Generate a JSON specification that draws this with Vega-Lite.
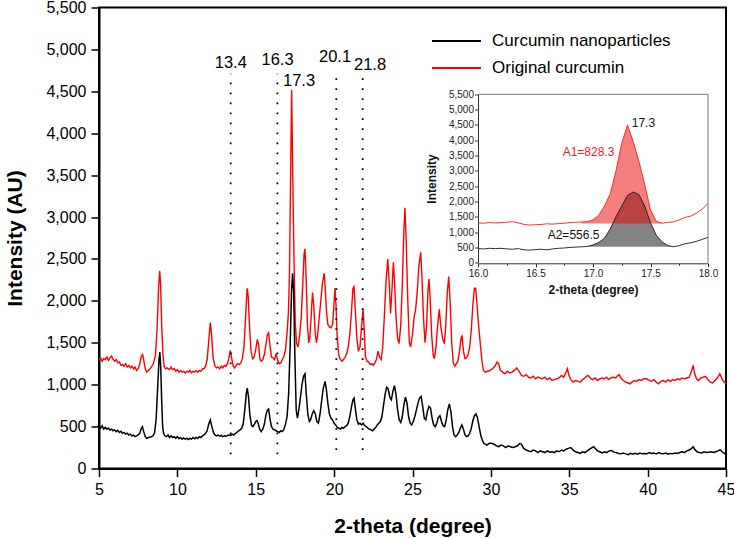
{
"$schema":"https://vega.github.io/schema/vega-lite/v6.json",
"width":627,"height":461,
"autosize":"none",
"padding":{"left":99,"top":7.5,"right":8,"bottom":70.5},
"config":{"font":"Liberation Sans","view":{"stroke":"#000","strokeWidth":2},"axis":{"grid":false,"labelFont":"Liberation Sans","titleFont":"Liberation Sans"},"text":{"font":"Liberation Sans"},"legend":{"labelFont":"Liberation Sans"}},
"datasets":{
"orig":[{"x":5.0,"y":1290},{"x":5.1,"y":1320},{"x":5.2,"y":1280},{"x":5.3,"y":1310},{"x":5.4,"y":1300},{"x":5.5,"y":1330},{"x":5.6,"y":1290},{"x":5.7,"y":1320},{"x":5.8,"y":1340},{"x":5.9,"y":1300},{"x":6.0,"y":1280},{"x":6.1,"y":1300},{"x":6.2,"y":1260},{"x":6.3,"y":1270},{"x":6.4,"y":1230},{"x":6.5,"y":1240},{"x":6.6,"y":1220},{"x":6.7,"y":1250},{"x":6.8,"y":1210},{"x":6.9,"y":1230},{"x":7.0,"y":1200},{"x":7.1,"y":1220},{"x":7.2,"y":1190},{"x":7.3,"y":1210},{"x":7.4,"y":1170},{"x":7.5,"y":1190},{"x":7.6,"y":1250},{"x":7.7,"y":1340},{"x":7.78,"y":1360},{"x":7.85,"y":1300},{"x":7.95,"y":1190},{"x":8.05,"y":1150},{"x":8.15,"y":1170},{"x":8.3,"y":1200},{"x":8.45,"y":1240},{"x":8.6,"y":1350},{"x":8.7,"y":1650},{"x":8.8,"y":2150},{"x":8.87,"y":2360},{"x":8.93,"y":2200},{"x":9.0,"y":1700},{"x":9.08,"y":1350},{"x":9.15,"y":1220},{"x":9.25,"y":1190},{"x":9.35,"y":1200},{"x":9.5,"y":1180},{"x":9.6,"y":1210},{"x":9.7,"y":1180},{"x":9.8,"y":1190},{"x":9.9,"y":1160},{"x":10.0,"y":1180},{"x":10.1,"y":1150},{"x":10.2,"y":1170},{"x":10.3,"y":1150},{"x":10.4,"y":1160},{"x":10.5,"y":1140},{"x":10.6,"y":1160},{"x":10.7,"y":1150},{"x":10.8,"y":1170},{"x":10.9,"y":1140},{"x":11.0,"y":1160},{"x":11.1,"y":1150},{"x":11.2,"y":1170},{"x":11.3,"y":1150},{"x":11.4,"y":1170},{"x":11.5,"y":1160},{"x":11.6,"y":1190},{"x":11.7,"y":1190},{"x":11.8,"y":1220},{"x":11.9,"y":1300},{"x":12.0,"y":1520},{"x":12.1,"y":1740},{"x":12.18,"y":1600},{"x":12.28,"y":1320},{"x":12.4,"y":1220},{"x":12.5,"y":1200},{"x":12.6,"y":1210},{"x":12.7,"y":1190},{"x":12.8,"y":1220},{"x":12.9,"y":1200},{"x":13.0,"y":1230},{"x":13.1,"y":1220},{"x":13.2,"y":1250},{"x":13.3,"y":1330},{"x":13.38,"y":1410},{"x":13.45,"y":1330},{"x":13.55,"y":1230},{"x":13.65,"y":1200},{"x":13.75,"y":1230},{"x":13.85,"y":1250},{"x":13.95,"y":1240},{"x":14.05,"y":1260},{"x":14.15,"y":1310},{"x":14.25,"y":1450},{"x":14.35,"y":1800},{"x":14.45,"y":2150},{"x":14.52,"y":2050},{"x":14.6,"y":1700},{"x":14.7,"y":1400},{"x":14.8,"y":1310},{"x":14.9,"y":1330},{"x":15.0,"y":1420},{"x":15.1,"y":1540},{"x":15.18,"y":1480},{"x":15.27,"y":1300},{"x":15.35,"y":1280},{"x":15.45,"y":1300},{"x":15.55,"y":1360},{"x":15.65,"y":1480},{"x":15.75,"y":1600},{"x":15.82,"y":1620},{"x":15.9,"y":1480},{"x":16.0,"y":1330},{"x":16.1,"y":1320},{"x":16.2,"y":1300},{"x":16.3,"y":1370},{"x":16.4,"y":1290},{"x":16.5,"y":1250},{"x":16.6,"y":1260},{"x":16.7,"y":1300},{"x":16.8,"y":1340},{"x":16.9,"y":1420},{"x":17.0,"y":1620},{"x":17.08,"y":1850},{"x":17.15,"y":2300},{"x":17.22,"y":3400},{"x":17.29,"y":4520},{"x":17.36,"y":3500},{"x":17.44,"y":2500},{"x":17.52,"y":1750},{"x":17.6,"y":1500},{"x":17.7,"y":1450},{"x":17.8,"y":1600},{"x":17.9,"y":1800},{"x":18.0,"y":2200},{"x":18.08,"y":2550},{"x":18.14,"y":2620},{"x":18.22,"y":2250},{"x":18.3,"y":1700},{"x":18.38,"y":1500},{"x":18.45,"y":1560},{"x":18.53,"y":1800},{"x":18.62,"y":2100},{"x":18.7,"y":1950},{"x":18.8,"y":1600},{"x":18.88,"y":1500},{"x":18.95,"y":1600},{"x":19.05,"y":1800},{"x":19.15,"y":2000},{"x":19.25,"y":2200},{"x":19.37,"y":2330},{"x":19.45,"y":2100},{"x":19.52,"y":1850},{"x":19.6,"y":1720},{"x":19.7,"y":1690},{"x":19.8,"y":1680},{"x":19.9,"y":1720},{"x":19.97,"y":1900},{"x":20.05,"y":2150},{"x":20.12,"y":1950},{"x":20.2,"y":1550},{"x":20.3,"y":1350},{"x":20.4,"y":1300},{"x":20.5,"y":1280},{"x":20.6,"y":1300},{"x":20.7,"y":1330},{"x":20.8,"y":1370},{"x":20.9,"y":1450},{"x":21.0,"y":1600},{"x":21.1,"y":1850},{"x":21.2,"y":2150},{"x":21.27,"y":2170},{"x":21.35,"y":1900},{"x":21.45,"y":1550},{"x":21.55,"y":1400},{"x":21.65,"y":1450},{"x":21.75,"y":1700},{"x":21.85,"y":1900},{"x":21.92,"y":1650},{"x":22.0,"y":1330},{"x":22.1,"y":1280},{"x":22.2,"y":1270},{"x":22.3,"y":1240},{"x":22.4,"y":1250},{"x":22.5,"y":1230},{"x":22.6,"y":1260},{"x":22.7,"y":1300},{"x":22.8,"y":1400},{"x":22.9,"y":1330},{"x":23.0,"y":1300},{"x":23.1,"y":1450},{"x":23.2,"y":1800},{"x":23.3,"y":2200},{"x":23.42,"y":2500},{"x":23.52,"y":2200},{"x":23.6,"y":1850},{"x":23.68,"y":2100},{"x":23.78,"y":2460},{"x":23.86,"y":2200},{"x":23.95,"y":1800},{"x":24.05,"y":1550},{"x":24.14,"y":1490},{"x":24.25,"y":1700},{"x":24.35,"y":2200},{"x":24.45,"y":2850},{"x":24.52,"y":3110},{"x":24.6,"y":2700},{"x":24.7,"y":2000},{"x":24.8,"y":1500},{"x":24.88,"y":1450},{"x":25.0,"y":1600},{"x":25.1,"y":1800},{"x":25.2,"y":1900},{"x":25.3,"y":2100},{"x":25.4,"y":2400},{"x":25.52,"y":2580},{"x":25.6,"y":2300},{"x":25.7,"y":1800},{"x":25.8,"y":1500},{"x":25.9,"y":1700},{"x":25.98,"y":2100},{"x":26.05,"y":2260},{"x":26.12,"y":2050},{"x":26.22,"y":1600},{"x":26.32,"y":1350},{"x":26.4,"y":1310},{"x":26.5,"y":1450},{"x":26.6,"y":1700},{"x":26.71,"y":1900},{"x":26.8,"y":1700},{"x":26.92,"y":1550},{"x":27.03,"y":1490},{"x":27.12,"y":1700},{"x":27.22,"y":2100},{"x":27.31,"y":2290},{"x":27.4,"y":2000},{"x":27.5,"y":1500},{"x":27.6,"y":1260},{"x":27.7,"y":1220},{"x":27.8,"y":1250},{"x":27.9,"y":1280},{"x":28.0,"y":1400},{"x":28.1,"y":1560},{"x":28.16,"y":1580},{"x":28.25,"y":1400},{"x":28.35,"y":1310},{"x":28.45,"y":1320},{"x":28.55,"y":1360},{"x":28.65,"y":1450},{"x":28.75,"y":1650},{"x":28.85,"y":1950},{"x":28.95,"y":2150},{"x":29.03,"y":2150},{"x":29.12,"y":1950},{"x":29.22,"y":1700},{"x":29.32,"y":1500},{"x":29.42,"y":1300},{"x":29.52,"y":1170},{"x":29.65,"y":1150},{"x":29.8,"y":1160},{"x":29.95,"y":1170},{"x":30.1,"y":1190},{"x":30.25,"y":1220},{"x":30.4,"y":1270},{"x":30.5,"y":1250},{"x":30.6,"y":1170},{"x":30.75,"y":1150},{"x":30.9,"y":1130},{"x":31.05,"y":1160},{"x":31.2,"y":1140},{"x":31.35,"y":1150},{"x":31.5,"y":1170},{"x":31.65,"y":1200},{"x":31.8,"y":1160},{"x":31.95,"y":1110},{"x":32.1,"y":1100},{"x":32.25,"y":1120},{"x":32.4,"y":1090},{"x":32.55,"y":1080},{"x":32.7,"y":1100},{"x":32.85,"y":1070},{"x":33.0,"y":1090},{"x":33.15,"y":1080},{"x":33.3,"y":1070},{"x":33.45,"y":1090},{"x":33.6,"y":1060},{"x":33.75,"y":1080},{"x":33.9,"y":1050},{"x":34.05,"y":1060},{"x":34.2,"y":1070},{"x":34.35,"y":1080},{"x":34.5,"y":1110},{"x":34.65,"y":1090},{"x":34.8,"y":1150},{"x":34.88,"y":1190},{"x":34.97,"y":1120},{"x":35.1,"y":1060},{"x":35.25,"y":1030},{"x":35.4,"y":1050},{"x":35.55,"y":1040},{"x":35.7,"y":1030},{"x":35.85,"y":1060},{"x":36.0,"y":1080},{"x":36.1,"y":1100},{"x":36.2,"y":1110},{"x":36.3,"y":1090},{"x":36.4,"y":1070},{"x":36.5,"y":1060},{"x":36.65,"y":1080},{"x":36.8,"y":1050},{"x":36.95,"y":1070},{"x":37.1,"y":1080},{"x":37.25,"y":1070},{"x":37.38,"y":1090},{"x":37.5,"y":1060},{"x":37.65,"y":1080},{"x":37.8,"y":1090},{"x":37.95,"y":1080},{"x":38.05,"y":1100},{"x":38.19,"y":1120},{"x":38.3,"y":1080},{"x":38.45,"y":1050},{"x":38.6,"y":1030},{"x":38.75,"y":1020},{"x":38.87,"y":1010},{"x":39.0,"y":1030},{"x":39.15,"y":1050},{"x":39.3,"y":1040},{"x":39.45,"y":1060},{"x":39.6,"y":1050},{"x":39.75,"y":1070},{"x":39.94,"y":1070},{"x":40.1,"y":1050},{"x":40.25,"y":1040},{"x":40.4,"y":1060},{"x":40.55,"y":1030},{"x":40.7,"y":1010},{"x":40.85,"y":1040},{"x":41.0,"y":1050},{"x":41.15,"y":1030},{"x":41.3,"y":1060},{"x":41.45,"y":1040},{"x":41.6,"y":1060},{"x":41.75,"y":1050},{"x":41.9,"y":1070},{"x":42.05,"y":1060},{"x":42.2,"y":1080},{"x":42.35,"y":1070},{"x":42.5,"y":1080},{"x":42.65,"y":1090},{"x":42.78,"y":1150},{"x":42.91,"y":1230},{"x":43.0,"y":1130},{"x":43.12,"y":1070},{"x":43.25,"y":1050},{"x":43.4,"y":1080},{"x":43.55,"y":1090},{"x":43.7,"y":1100},{"x":43.85,"y":1060},{"x":44.0,"y":1030},{"x":44.15,"y":1020},{"x":44.3,"y":1050},{"x":44.45,"y":1080},{"x":44.6,"y":1130},{"x":44.7,"y":1090},{"x":44.8,"y":1050},{"x":44.9,"y":1030},{"x":45.0,"y":1010}],
"nano":[{"x":5.0,"y":500},{"x":5.1,"y":480},{"x":5.2,"y":510},{"x":5.3,"y":470},{"x":5.4,"y":490},{"x":5.5,"y":470},{"x":5.6,"y":480},{"x":5.7,"y":460},{"x":5.8,"y":470},{"x":5.9,"y":450},{"x":6.0,"y":460},{"x":6.1,"y":440},{"x":6.2,"y":455},{"x":6.3,"y":430},{"x":6.4,"y":445},{"x":6.5,"y":420},{"x":6.6,"y":430},{"x":6.7,"y":410},{"x":6.8,"y":420},{"x":6.9,"y":400},{"x":7.0,"y":410},{"x":7.1,"y":390},{"x":7.2,"y":395},{"x":7.3,"y":380},{"x":7.4,"y":390},{"x":7.5,"y":400},{"x":7.6,"y":420},{"x":7.7,"y":480},{"x":7.77,"y":500},{"x":7.85,"y":440},{"x":7.95,"y":380},{"x":8.05,"y":360},{"x":8.15,"y":370},{"x":8.3,"y":375},{"x":8.45,"y":390},{"x":8.55,"y":430},{"x":8.65,"y":600},{"x":8.75,"y":1000},{"x":8.83,"y":1300},{"x":8.88,"y":1390},{"x":8.94,"y":1200},{"x":9.0,"y":800},{"x":9.06,"y":500},{"x":9.12,"y":420},{"x":9.2,"y":390},{"x":9.3,"y":380},{"x":9.4,"y":400},{"x":9.5,"y":370},{"x":9.6,"y":390},{"x":9.7,"y":370},{"x":9.8,"y":380},{"x":9.9,"y":360},{"x":10.0,"y":380},{"x":10.1,"y":355},{"x":10.2,"y":370},{"x":10.3,"y":350},{"x":10.4,"y":365},{"x":10.5,"y":350},{"x":10.6,"y":360},{"x":10.7,"y":345},{"x":10.8,"y":360},{"x":10.9,"y":350},{"x":11.0,"y":370},{"x":11.1,"y":355},{"x":11.2,"y":370},{"x":11.3,"y":360},{"x":11.4,"y":380},{"x":11.5,"y":370},{"x":11.6,"y":390},{"x":11.7,"y":400},{"x":11.8,"y":420},{"x":11.9,"y":450},{"x":12.0,"y":530},{"x":12.1,"y":580},{"x":12.2,"y":500},{"x":12.3,"y":430},{"x":12.4,"y":400},{"x":12.5,"y":390},{"x":12.6,"y":400},{"x":12.7,"y":385},{"x":12.8,"y":395},{"x":12.9,"y":380},{"x":13.0,"y":390},{"x":13.1,"y":385},{"x":13.2,"y":395},{"x":13.3,"y":400},{"x":13.4,"y":395},{"x":13.5,"y":410},{"x":13.6,"y":400},{"x":13.7,"y":420},{"x":13.8,"y":430},{"x":13.9,"y":450},{"x":14.0,"y":460},{"x":14.1,"y":480},{"x":14.2,"y":530},{"x":14.3,"y":700},{"x":14.4,"y":900},{"x":14.46,"y":960},{"x":14.54,"y":850},{"x":14.62,"y":650},{"x":14.72,"y":520},{"x":14.82,"y":500},{"x":14.92,"y":530},{"x":15.0,"y":560},{"x":15.08,"y":570},{"x":15.15,"y":540},{"x":15.25,"y":470},{"x":15.35,"y":440},{"x":15.45,"y":470},{"x":15.55,"y":530},{"x":15.65,"y":640},{"x":15.75,"y":700},{"x":15.82,"y":710},{"x":15.9,"y":600},{"x":16.0,"y":500},{"x":16.1,"y":470},{"x":16.2,"y":460},{"x":16.3,"y":450},{"x":16.4,"y":440},{"x":16.5,"y":430},{"x":16.6,"y":450},{"x":16.7,"y":440},{"x":16.8,"y":470},{"x":16.9,"y":530},{"x":17.0,"y":620},{"x":17.1,"y":900},{"x":17.2,"y":1500},{"x":17.28,"y":2100},{"x":17.35,"y":2330},{"x":17.42,"y":2100},{"x":17.5,"y":1300},{"x":17.58,"y":700},{"x":17.66,"y":600},{"x":17.75,"y":700},{"x":17.85,"y":850},{"x":17.95,"y":1000},{"x":18.05,"y":1100},{"x":18.14,"y":1130},{"x":18.22,"y":900},{"x":18.32,"y":650},{"x":18.42,"y":560},{"x":18.5,"y":580},{"x":18.6,"y":650},{"x":18.7,"y":690},{"x":18.8,"y":650},{"x":18.9,"y":560},{"x":19.0,"y":540},{"x":19.1,"y":650},{"x":19.2,"y":800},{"x":19.3,"y":950},{"x":19.42,"y":1040},{"x":19.5,"y":950},{"x":19.6,"y":780},{"x":19.7,"y":650},{"x":19.8,"y":600},{"x":19.9,"y":580},{"x":20.0,"y":540},{"x":20.1,"y":520},{"x":20.2,"y":490},{"x":20.3,"y":480},{"x":20.4,"y":470},{"x":20.5,"y":490},{"x":20.6,"y":480},{"x":20.7,"y":500},{"x":20.8,"y":510},{"x":20.9,"y":540},{"x":21.0,"y":620},{"x":21.1,"y":730},{"x":21.2,"y":820},{"x":21.27,"y":840},{"x":21.35,"y":720},{"x":21.45,"y":580},{"x":21.55,"y":530},{"x":21.65,"y":540},{"x":21.75,"y":520},{"x":21.85,"y":540},{"x":21.95,"y":510},{"x":22.05,"y":500},{"x":22.15,"y":480},{"x":22.25,"y":470},{"x":22.35,"y":460},{"x":22.45,"y":450},{"x":22.55,"y":470},{"x":22.65,"y":490},{"x":22.75,"y":520},{"x":22.85,"y":540},{"x":22.95,"y":560},{"x":23.05,"y":620},{"x":23.15,"y":750},{"x":23.25,"y":880},{"x":23.35,"y":970},{"x":23.45,"y":950},{"x":23.55,"y":850},{"x":23.65,"y":820},{"x":23.75,"y":920},{"x":23.85,"y":990},{"x":23.95,"y":880},{"x":24.05,"y":700},{"x":24.15,"y":580},{"x":24.25,"y":550},{"x":24.35,"y":620},{"x":24.45,"y":760},{"x":24.55,"y":850},{"x":24.65,"y":780},{"x":24.75,"y":620},{"x":24.85,"y":540},{"x":24.95,"y":520},{"x":25.05,"y":560},{"x":25.15,"y":620},{"x":25.25,"y":700},{"x":25.35,"y":780},{"x":25.45,"y":840},{"x":25.55,"y":860},{"x":25.65,"y":740},{"x":25.75,"y":600},{"x":25.85,"y":580},{"x":25.95,"y":680},{"x":26.05,"y":740},{"x":26.15,"y":720},{"x":26.25,"y":600},{"x":26.35,"y":520},{"x":26.45,"y":500},{"x":26.55,"y":540},{"x":26.65,"y":610},{"x":26.75,"y":630},{"x":26.85,"y":560},{"x":26.95,"y":510},{"x":27.05,"y":500},{"x":27.15,"y":580},{"x":27.25,"y":700},{"x":27.35,"y":770},{"x":27.45,"y":680},{"x":27.55,"y":500},{"x":27.65,"y":400},{"x":27.75,"y":380},{"x":27.85,"y":400},{"x":27.95,"y":430},{"x":28.05,"y":480},{"x":28.15,"y":520},{"x":28.25,"y":470},{"x":28.35,"y":400},{"x":28.45,"y":380},{"x":28.55,"y":390},{"x":28.65,"y":420},{"x":28.75,"y":480},{"x":28.85,"y":570},{"x":28.95,"y":630},{"x":29.05,"y":650},{"x":29.15,"y":600},{"x":29.25,"y":500},{"x":29.35,"y":400},{"x":29.45,"y":340},{"x":29.55,"y":300},{"x":29.65,"y":290},{"x":29.75,"y":280},{"x":29.9,"y":300},{"x":30.05,"y":300},{"x":30.2,"y":290},{"x":30.35,"y":270},{"x":30.5,"y":260},{"x":30.65,"y":280},{"x":30.8,"y":270},{"x":30.95,"y":250},{"x":31.1,"y":270},{"x":31.25,"y":260},{"x":31.4,"y":250},{"x":31.55,"y":260},{"x":31.7,"y":270},{"x":31.85,"y":300},{"x":31.95,"y":290},{"x":32.1,"y":240},{"x":32.25,"y":220},{"x":32.4,"y":210},{"x":32.55,"y":200},{"x":32.7,"y":220},{"x":32.85,"y":210},{"x":33.0,"y":190},{"x":33.15,"y":210},{"x":33.3,"y":200},{"x":33.45,"y":190},{"x":33.6,"y":210},{"x":33.75,"y":195},{"x":33.9,"y":200},{"x":34.05,"y":190},{"x":34.2,"y":210},{"x":34.35,"y":200},{"x":34.5,"y":220},{"x":34.65,"y":210},{"x":34.8,"y":230},{"x":34.95,"y":240},{"x":35.1,"y":250},{"x":35.25,"y":220},{"x":35.4,"y":200},{"x":35.55,"y":190},{"x":35.7,"y":180},{"x":35.85,"y":200},{"x":36.0,"y":190},{"x":36.15,"y":210},{"x":36.3,"y":230},{"x":36.45,"y":250},{"x":36.55,"y":260},{"x":36.65,"y":240},{"x":36.8,"y":210},{"x":36.95,"y":200},{"x":37.1,"y":185},{"x":37.25,"y":200},{"x":37.4,"y":190},{"x":37.55,"y":210},{"x":37.7,"y":215},{"x":37.85,"y":195},{"x":38.0,"y":190},{"x":38.15,"y":180},{"x":38.3,"y":175},{"x":38.45,"y":185},{"x":38.6,"y":175},{"x":38.75,"y":165},{"x":38.9,"y":180},{"x":39.05,"y":170},{"x":39.2,"y":180},{"x":39.35,"y":170},{"x":39.5,"y":185},{"x":39.65,"y":175},{"x":39.8,"y":180},{"x":39.95,"y":175},{"x":40.1,"y":190},{"x":40.25,"y":180},{"x":40.4,"y":185},{"x":40.55,"y":175},{"x":40.7,"y":190},{"x":40.85,"y":180},{"x":41.0,"y":175},{"x":41.15,"y":185},{"x":41.3,"y":170},{"x":41.45,"y":180},{"x":41.6,"y":175},{"x":41.75,"y":185},{"x":41.9,"y":180},{"x":42.05,"y":190},{"x":42.2,"y":200},{"x":42.35,"y":190},{"x":42.5,"y":210},{"x":42.65,"y":220},{"x":42.8,"y":240},{"x":42.91,"y":260},{"x":43.0,"y":230},{"x":43.15,"y":200},{"x":43.3,"y":190},{"x":43.45,"y":185},{"x":43.6,"y":200},{"x":43.75,"y":190},{"x":43.9,"y":195},{"x":44.05,"y":200},{"x":44.2,"y":190},{"x":44.35,"y":200},{"x":44.5,"y":210},{"x":44.62,"y":225},{"x":44.75,"y":200},{"x":44.9,"y":180},{"x":45.0,"y":165}],
"guides":[{"x":13.4,"y":170,"y2":4710},{"x":16.38,"y":170,"y2":4710},{"x":20.14,"y":220,"y2":4690},{"x":21.82,"y":220,"y2":4690}],
"peaks":[{"x":13.41,"y":4783,"label":"13.4"},{"x":16.39,"y":4816,"label":"16.3"},{"x":20.06,"y":4851,"label":"20.1"},{"x":22.29,"y":4756,"label":"21.8"},{"x":17.76,"y":4565,"label":"17.3"}],
"iorig":[{"x":16.0,"y":1300},{"x":16.05,"y":1290},{"x":16.1,"y":1310},{"x":16.15,"y":1300},{"x":16.2,"y":1310},{"x":16.25,"y":1320},{"x":16.3,"y":1340},{"x":16.35,"y":1300},{"x":16.4,"y":1250},{"x":16.45,"y":1230},{"x":16.5,"y":1240},{"x":16.55,"y":1250},{"x":16.6,"y":1270},{"x":16.65,"y":1260},{"x":16.7,"y":1280},{"x":16.75,"y":1290},{"x":16.8,"y":1310},{"x":16.85,"y":1320},{"x":16.9,"y":1330},{"x":16.95,"y":1340},{"x":17.0,"y":1400},{"x":17.05,"y":1550},{"x":17.1,"y":1850},{"x":17.15,"y":2250},{"x":17.2,"y":3000},{"x":17.25,"y":3900},{"x":17.3,"y":4500},{"x":17.35,"y":3950},{"x":17.4,"y":3300},{"x":17.45,"y":2550},{"x":17.5,"y":1720},{"x":17.55,"y":1350},{"x":17.6,"y":1290},{"x":17.65,"y":1320},{"x":17.7,"y":1330},{"x":17.75,"y":1400},{"x":17.8,"y":1480},{"x":17.85,"y":1520},{"x":17.9,"y":1620},{"x":17.95,"y":1750},{"x":18.0,"y":1940}],
"inano":[{"x":16.0,"y":460},{"x":16.05,"y":450},{"x":16.1,"y":470},{"x":16.15,"y":460},{"x":16.2,"y":470},{"x":16.25,"y":450},{"x":16.3,"y":440},{"x":16.35,"y":460},{"x":16.4,"y":420},{"x":16.45,"y":410},{"x":16.5,"y":430},{"x":16.55,"y":440},{"x":16.6,"y":420},{"x":16.65,"y":450},{"x":16.7,"y":470},{"x":16.75,"y":480},{"x":16.8,"y":500},{"x":16.85,"y":510},{"x":16.9,"y":520},{"x":16.95,"y":530},{"x":17.0,"y":580},{"x":17.05,"y":660},{"x":17.1,"y":800},{"x":17.15,"y":1100},{"x":17.2,"y":1500},{"x":17.25,"y":1850},{"x":17.3,"y":2200},{"x":17.35,"y":2310},{"x":17.4,"y":2220},{"x":17.45,"y":1850},{"x":17.5,"y":1300},{"x":17.55,"y":900},{"x":17.6,"y":680},{"x":17.65,"y":560},{"x":17.7,"y":520},{"x":17.75,"y":560},{"x":17.8,"y":620},{"x":17.85,"y":650},{"x":17.9,"y":700},{"x":17.95,"y":760},{"x":18.0,"y":830}],
"iframe":[{"x":16,"x2":18,"y":5500,"y2":5500},{"x":18,"x2":18,"y":0,"y2":5500}],
"itext":[{"x":17.337,"y":4426,"label":"17.3","series":"peak"},{"x":16.736,"y":3472,"label":"A1=828.3","series":"orig"},{"x":16.606,"y":771,"label":"A2=556.5","series":"nano"}]
},
"layer":[
{"layer":[
{"data":{"name":"orig"},"mark":{"type":"line","strokeWidth":1.4},
 "encoding":{
  "x":{"field":"x","type":"quantitative","scale":{"domain":[5,45],"nice":false,"zero":false},
   "axis":{"title":"2-theta (degree)","values":[5,7.5,10,12.5,15,17.5,20,22.5,25,27.5,30,32.5,35,37.5,40,42.5,45],"labelExpr":"datum.value % 5 === 0 ? format(datum.value, 'd') : ''","tickSize":{"condition":{"test":"datum.value % 5 === 0","value":8},"value":4},"labelFontSize":16,"labelPadding":5,"labelFlush":false,"labelOverlap":false,"titleFontSize":21,"titleFontWeight":"bold","titlePadding":18,"domainColor":"#000","domainWidth":2,"tickColor":"#000","tickWidth":1.5,"labelColor":"#000","titleColor":"#000"}},
  "y":{"field":"y","type":"quantitative","scale":{"domain":[0,5500],"nice":false},
   "axis":{"title":"Intensity (AU)","values":[0,250,500,750,1000,1250,1500,1750,2000,2250,2500,2750,3000,3250,3500,3750,4000,4250,4500,4750,5000,5250,5500],"labelExpr":"datum.value % 500 === 0 ? format(datum.value, ',') : ''","tickSize":{"condition":{"test":"datum.value % 500 === 0","value":8},"value":4},"labelFontSize":16,"labelPadding":5,"labelFlush":false,"labelOverlap":false,"titleFontSize":21,"titleFontWeight":"bold","titlePadding":20,"domainColor":"#000","domainWidth":2,"tickColor":"#000","tickWidth":1.5,"labelColor":"#000","titleColor":"#000"}},
  "color":{"datum":"Original curcumin","type":"nominal","scale":{"domain":["Curcumin nanoparticles","Original curcumin"],"range":["#000000","#ff0000"]},
   "legend":{"orient":"none","legendX":332,"legendY":25,"title":null,"symbolType":"stroke","symbolSize":2400,"symbolStrokeWidth":2,"labelFontSize":17,"labelLimit":400,"labelColor":"#000","rowPadding":9,"labelOffset":10,"clipHeight":17}}
 }},
{"data":{"name":"nano"},"mark":{"type":"line","strokeWidth":1.5},
 "encoding":{"x":{"field":"x","type":"quantitative"},"y":{"field":"y","type":"quantitative"},"color":{"datum":"Curcumin nanoparticles","type":"nominal"}}},
{"data":{"name":"guides"},"mark":{"type":"rule","color":"#000","strokeWidth":1.8,"strokeDash":[1.8,8.2]},
 "encoding":{"x":{"field":"x","type":"quantitative"},"y":{"field":"y","type":"quantitative"},"y2":{"field":"y2"}}},
{"data":{"name":"peaks"},"mark":{"type":"text","fontSize":16.5,"align":"center","baseline":"alphabetic","color":"#000"},
 "encoding":{"x":{"field":"x","type":"quantitative"},"y":{"field":"y","type":"quantitative"},"text":{"field":"label"}}}
]},
{"layer":[
{"data":{"name":"inano"},"transform":[{"filter":"datum.x >= 16.95 && datum.x <= 17.72"}],"mark":{"type":"area","color":"#848484","opacity":1},
 "encoding":{
  "x":{"field":"x","type":"quantitative","scale":{"domain":[16,18],"nice":false,"zero":false,"range":[379,609]},
   "axis":{"orient":"bottom","offset":-205.2,"title":"2-theta (degree)","values":[16,16.25,16.5,16.75,17,17.25,17.5,17.75,18],"labelExpr":"datum.value % 0.5 === 0 ? format(datum.value, '.1f') : ''","tickSize":{"condition":{"test":"datum.value % 0.5 === 0","value":3.5},"value":2},"labelFontSize":10,"labelPadding":2,"labelFlush":false,"labelOverlap":false,"titleFontSize":12,"titleFontWeight":"bold","titlePadding":6,"domainColor":"#333","domainWidth":1,"tickColor":"#333","labelColor":"#222","titleColor":"#111"}},
  "y":{"field":"y","type":"quantitative","scale":{"domain":[0,5500],"nice":false,"range":[255.2,86.8]},
   "axis":{"orient":"left","offset":-379,"title":"Intensity","values":[0,250,500,750,1000,1250,1500,1750,2000,2250,2500,2750,3000,3250,3500,3750,4000,4250,4500,4750,5000,5250,5500],"labelExpr":"datum.value % 500 === 0 ? format(datum.value, ',') : ''","tickSize":{"condition":{"test":"datum.value % 500 === 0","value":3.5},"value":2},"labelFontSize":10,"labelPadding":1,"labelFlush":false,"labelOverlap":false,"titleFontSize":12,"titleFontWeight":"bold","titlePadding":10,"domainColor":"#333","domainWidth":1,"tickColor":"#333","labelColor":"#222","titleColor":"#111"}},
  "y2":{"datum":520}
 }},
{"data":{"name":"iorig"},"transform":[{"filter":"datum.x >= 16.9 && datum.x <= 17.62"}],"mark":{"type":"area","color":"#e80000","opacity":0.5},
 "encoding":{"x":{"field":"x","type":"quantitative"},"y":{"field":"y","type":"quantitative"},"y2":{"datum":1280}}},
{"data":{"name":"iorig"},"mark":{"type":"line","color":"#ff1a1a","strokeWidth":0.9},
 "encoding":{"x":{"field":"x","type":"quantitative"},"y":{"field":"y","type":"quantitative"}}},
{"data":{"name":"inano"},"mark":{"type":"line","color":"#1a1a1a","strokeWidth":0.9},
 "encoding":{"x":{"field":"x","type":"quantitative"},"y":{"field":"y","type":"quantitative"}}},
{"data":{"name":"iframe"},"mark":{"type":"rule","color":"#777","strokeWidth":1},
 "encoding":{"x":{"field":"x","type":"quantitative"},"x2":{"field":"x2"},"y":{"field":"y","type":"quantitative"},"y2":{"field":"y2"}}},
{"data":{"name":"itext"},"mark":{"type":"text","fontSize":12,"align":"left","baseline":"alphabetic"},
 "encoding":{"x":{"field":"x","type":"quantitative"},"y":{"field":"y","type":"quantitative"},"text":{"field":"label"},
  "color":{"field":"series","type":"nominal","scale":{"domain":["peak","orig","nano"],"range":["#111111","#e8222a","#111111"]},"legend":null}}}
]}
],
"resolve":{"scale":{"x":"independent","y":"independent","color":"independent"},"axis":{"x":"independent","y":"independent"}}
}
